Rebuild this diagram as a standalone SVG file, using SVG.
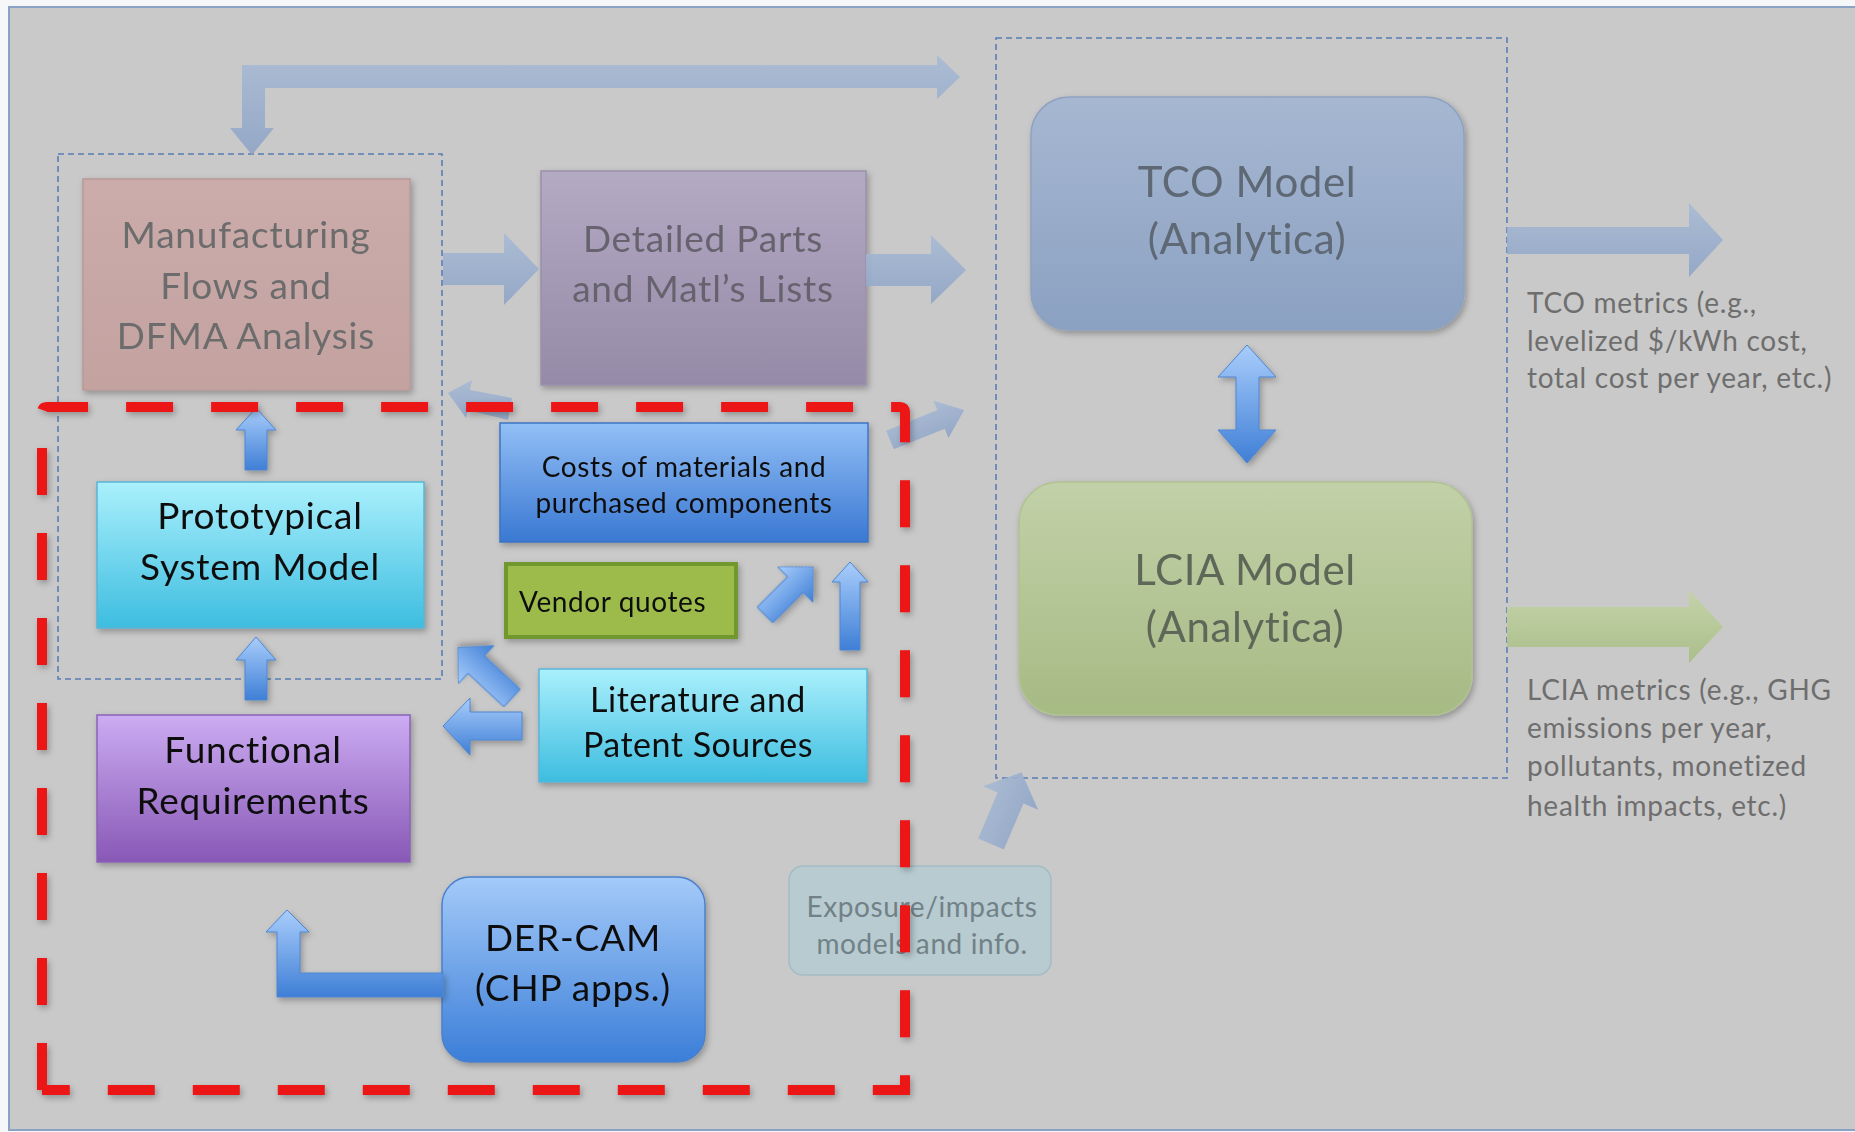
<svg xmlns="http://www.w3.org/2000/svg" width="1855" height="1132" viewBox="0 0 1855 1132">
  <defs>
    <style>
      text { font-family: Lato, "Liberation Sans", sans-serif; text-anchor: middle; }
      .big { font-size: 37px; letter-spacing: 0.8px; fill: #111; }
      .lit { font-size: 34px; letter-spacing: 0.5px; }
      .bigfade { font-size: 37px; letter-spacing: 0.8px; fill: #6c6c6c; }
      .model { font-size: 42px; letter-spacing: 0.6px; fill: #5f6874; }
      .small { font-size: 28px; letter-spacing: 0.6px; fill: #111; }
      .note { font-size: 28px; letter-spacing: 0.75px; fill: #6e6e6e; text-anchor: start; }
      .partsT { fill: #66646e; }
      .lciaT { fill: #5f6858; }
      .expoT { fill: #728187; }
      .left { text-anchor: start; }
      .group { fill: none; stroke: #5a7db3; stroke-width: 1.6; stroke-dasharray: 6 4; }
      .vivid { fill: url(#gArrow); stroke: #4d86d2; stroke-width: 1; filter: url(#sh); }
      .faded { fill: url(#gFade); opacity: 0.9; }
    </style>
    <filter id="sh" x="-20%" y="-20%" width="140%" height="140%">
      <feDropShadow dx="2" dy="3" stdDeviation="3" flood-color="#000" flood-opacity="0.28"/>
    </filter>
    <linearGradient id="gArrow" x1="0" y1="0" x2="0" y2="1">
      <stop offset="0" stop-color="#a9cdfb"/>
      <stop offset="1" stop-color="#3f7fd6"/>
    </linearGradient>
    <linearGradient id="gFade" x1="0" y1="0" x2="0" y2="1">
      <stop offset="0" stop-color="#a8bad4"/>
      <stop offset="1" stop-color="#8ea4c6"/>
    </linearGradient>
    <linearGradient id="gGreenOut" x1="0" y1="0" x2="0" y2="1">
      <stop offset="0" stop-color="#c4d3a8"/>
      <stop offset="1" stop-color="#abbe8b"/>
    </linearGradient>
    <linearGradient id="gMfg" x1="0" y1="0" x2="0" y2="1">
      <stop offset="0" stop-color="#cbacaa"/>
      <stop offset="1" stop-color="#c3a2a0"/>
    </linearGradient>
    <linearGradient id="gParts" x1="0" y1="0" x2="0" y2="1">
      <stop offset="0" stop-color="#b4aac4"/>
      <stop offset="1" stop-color="#958aa7"/>
    </linearGradient>
    <linearGradient id="gCyan" x1="0" y1="0" x2="0" y2="1">
      <stop offset="0" stop-color="#aaf0fc"/>
      <stop offset="1" stop-color="#3dbde0"/>
    </linearGradient>
    <linearGradient id="gPurple" x1="0" y1="0" x2="0" y2="1">
      <stop offset="0" stop-color="#ccacf2"/>
      <stop offset="1" stop-color="#8858b6"/>
    </linearGradient>
    <linearGradient id="gBlue" x1="0" y1="0" x2="0" y2="1">
      <stop offset="0" stop-color="#92bff6"/>
      <stop offset="1" stop-color="#3a78d2"/>
    </linearGradient>
    <linearGradient id="gDer" x1="0" y1="0" x2="0" y2="1">
      <stop offset="0" stop-color="#a4caf9"/>
      <stop offset="1" stop-color="#3b7ed8"/>
    </linearGradient>
    <linearGradient id="gTco" x1="0" y1="0" x2="0" y2="1">
      <stop offset="0" stop-color="#a6b7d1"/>
      <stop offset="1" stop-color="#8ba1c2"/>
    </linearGradient>
    <linearGradient id="gLcia" x1="0" y1="0" x2="0" y2="1">
      <stop offset="0" stop-color="#c2d1a8"/>
      <stop offset="1" stop-color="#a6ba84"/>
    </linearGradient>
  </defs>

  <!-- page and frame -->
  <rect x="0" y="0" width="1855" height="1132" fill="#f6f7f9"/>
  <rect x="9" y="7" width="1860" height="1123" fill="#c9c9c9" stroke="#8aa2c4" stroke-width="2"/>

  <!-- dotted grouping outlines -->
  <g id="group-design">
    <rect class="group" x="58" y="154" width="384" height="525"/>
  </g>
  <g id="group-models">
    <rect class="group" x="996" y="38" width="511" height="740" stroke-dasharray="4 3" stroke-width="2"/>
  </g>

  <!-- nodes -->
  <g id="node-manufacturing" filter="url(#sh)">
    <rect x="83" y="179" width="327" height="211" fill="url(#gMfg)" stroke="#b89a98" stroke-width="1.5"/>
    <text class="bigfade" x="246" y="248">Manufacturing</text>
    <text class="bigfade" x="246" y="299">Flows and</text>
    <text class="bigfade" x="246" y="349">DFMA Analysis</text>
  </g>
  <g id="node-parts" filter="url(#sh)">
    <rect x="541" y="171" width="325" height="214" fill="url(#gParts)" stroke="#9a90ab" stroke-width="1.5"/>
    <text class="bigfade partsT" x="703" y="252">Detailed Parts</text>
    <text class="bigfade partsT" x="703" y="302">and Matl’s Lists</text>
  </g>
  <g id="node-tco" filter="url(#sh)">
    <rect x="1031" y="97" width="433" height="233" rx="38" fill="url(#gTco)" stroke="#8ea2c0" stroke-width="1.5"/>
    <text class="model" x="1247" y="197">TCO Model</text>
    <text class="model" x="1247" y="254">(Analytica)</text>
  </g>
  <g id="node-lcia" filter="url(#sh)">
    <rect x="1019" y="482" width="453" height="233" rx="40" fill="url(#gLcia)" stroke="#b0c290" stroke-width="1.5"/>
    <text class="model lciaT" x="1245" y="585">LCIA Model</text>
    <text class="model lciaT" x="1245" y="642">(Analytica)</text>
  </g>
  <g id="node-prototypical" filter="url(#sh)">
    <rect x="97" y="482" width="327" height="146" fill="url(#gCyan)" stroke="#5ab4d6" stroke-width="1.5"/>
    <text class="big" x="260" y="529">Prototypical</text>
    <text class="big" x="260" y="580">System Model</text>
  </g>
  <g id="node-costs" filter="url(#sh)">
    <rect x="500" y="423" width="368" height="119" fill="url(#gBlue)" stroke="#3c74c4" stroke-width="1.5"/>
    <text class="small" x="684" y="477">Costs of materials and</text>
    <text class="small" x="684" y="513">purchased components</text>
  </g>
  <g id="node-vendor" filter="url(#sh)">
    <rect x="506" y="564" width="230" height="73" fill="#9dbb4b" stroke="#6f982f" stroke-width="4"/>
    <text class="small left" x="519" y="612">Vendor quotes</text>
  </g>
  <g id="node-literature" filter="url(#sh)">
    <rect x="539" y="669" width="328" height="113" fill="url(#gCyan)" stroke="#5ab4d6" stroke-width="1.5"/>
    <text class="big lit" x="698" y="712">Literature and</text>
    <text class="big lit" x="698" y="757">Patent Sources</text>
  </g>
  <g id="node-functional" filter="url(#sh)">
    <rect x="97" y="715" width="313" height="147" fill="url(#gPurple)" stroke="#8a62b6" stroke-width="1.5"/>
    <text class="big" x="253" y="763">Functional</text>
    <text class="big" x="253" y="814">Requirements</text>
  </g>
  <g id="node-dercam" filter="url(#sh)">
    <rect x="442" y="877" width="263" height="185" rx="28" fill="url(#gDer)" stroke="#4a80cc" stroke-width="1.5"/>
    <text class="big" x="573" y="951">DER-CAM</text>
    <text class="big" x="573" y="1001">(CHP apps.)</text>
  </g>
  <g id="node-exposure">
    <rect x="789" y="866" width="262" height="109" rx="14" fill="#b7cbd0" stroke="#a5bcc3" stroke-width="1.5"/>
    <text class="small expoT" x="922" y="917">Exposure/impacts</text>
    <text class="small expoT" x="922" y="954">models and info.</text>
  </g>

  <!-- output notes -->
  <g id="note-tco">
    <text class="note" x="1527" y="313">TCO metrics (e.g.,</text>
    <text class="note" x="1527" y="351">levelized $/kWh cost,</text>
    <text class="note" x="1527" y="388">total cost per year, etc.)</text>
  </g>
  <g id="note-lcia">
    <text class="note" x="1527" y="700">LCIA metrics (e.g., GHG</text>
    <text class="note" x="1527" y="738">emissions per year,</text>
    <text class="note" x="1527" y="776">pollutants, monetized</text>
    <text class="note" x="1527" y="816">health impacts, etc.)</text>
  </g>

  <!-- connectors -->
  <g id="connectors">
    <!-- loop from the model group back down to the design group -->
    <path class="faded" d="M242,128 V65 H937 V55 L960,77 L937,99 V88 H265 V128 H274 L252,155 L230,128 Z"/>
    <path class="faded" d="M443,253 H504 V233 L539,269 L504,305 V285 H443 Z"/>
    <path class="faded" d="M866,254 H931 V235 L966,270 L931,304 V286 H866 Z"/>
    <path class="faded" d="M448,393 L472,380 L470,390 L512,398 L508,420 L468,410 L466,418 Z"/>
    <path class="faded" transform="translate(890,440) rotate(-22)" d="M0,-10 H55 V-20 L80,0 L55,20 V10 H0 Z"/>
    <path class="faded" transform="translate(991,844) rotate(-67)" d="M0,-14 H50 V-30 L78,0 L50,30 V14 H0 Z"/>
    <path class="faded" d="M1507,227 H1689 V203 L1723,240 L1689,277 V254 H1507 Z"/>
    <path fill="url(#gGreenOut)" d="M1507,607 H1689 V590 L1723,627 L1689,663 V647 H1507 Z"/>

    <path class="vivid" d="M1247,345 L1276,377 H1259 V430 H1276 L1247,463 L1218,430 H1236 V377 H1218 Z"/>
    <path class="vivid" d="M245,470 V430 H236 L256,408 L276,430 H267 V470 Z"/>
    <path class="vivid" d="M245,700 V660 H236 L256,637 L276,660 H267 V700 Z"/>
    <path class="vivid" transform="translate(765,615) rotate(-45)" d="M0,-11 H43 V-25 L68,0 L43,25 V11 H0 Z"/>
    <path class="vivid" d="M840,650 V582 H832 L850,562 L868,582 H860 V650 Z"/>
    <path class="vivid" transform="translate(512,698) rotate(-137)" d="M0,-12 H49 V-26 L74,0 L49,26 V12 H0 Z"/>
    <path class="vivid" d="M522,712 H470 V698 L443,726 L470,755 V740 H522 Z"/>
    <path class="vivid" d="M443,973 H300 V932 H309 L287,910 L266,932 H277 V997 H443 Z"/>
  </g>

  <!-- red dashed boundary -->
  <g id="boundary">
    <path d="M42,1090 V412 Q42,407 47,407 H900 Q905,407 905,412 V1090 H42" fill="none" stroke="#ec1515" stroke-width="10" stroke-dasharray="47 38" filter="url(#sh)"/>
  </g>
</svg>
